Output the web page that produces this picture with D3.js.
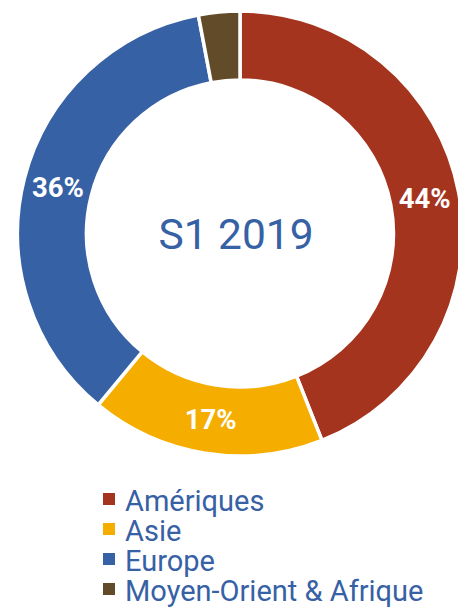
<!DOCTYPE html>
<meta charset="utf-8">
<style>
    html,
    body {
        margin: 0;
        padding: 0;
        background: #fff;
    }

    svg {
        display: block;
        font-family: Roboto, sans-serif;
    }
</style>
<svg id="chart" width="458" height="607"></svg>
<script src="https://d3js.org/d3.v7.js"></script>
<script>
    // data
    let regions = ["Amériques", "Asie", "Europe", "Moyen-Orient & Afrique"];
    let shares = [44, 17, 36, 3];
    let colors = ["#a5341f", "#f5ae00", "#3761a5", "#624b28"];
    let title = "S1 2019";

    let svg = d3.select("#chart");

    let cx = 240,
        cy = 233.5,
        outer = 222.5,
        inner = 153.5;

    let color = d3.scaleOrdinal().domain(regions).range(colors);

    let pie = d3.pie().sort(null).value(d => d.value);
    let arc = d3.arc().innerRadius(inner).outerRadius(outer);

    let data = regions.map((r, i) => ({name: r, value: shares[i]}));
    let arcs = pie(data);

    let g = svg.append("g").attr("transform", `translate(${cx},${cy})`);

    g.selectAll("path")
        .data(arcs)
        .join("path")
        .attr("d", arc)
        .attr("fill", d => color(d.data.name))
        .attr("stroke", "#fff")
        .attr("stroke-width", 3.5);

    // percent labels, the small slice stays unlabelled
    g.selectAll("text.pct")
        .data(arcs.filter(d => d.data.value >= 5))
        .join("text")
        .attr("class", "pct")
        .attr("transform", d => `translate(${arc.centroid(d)})`)
        .attr("text-anchor", "middle")
        .attr("dy", "0.36em")
        .attr("fill", "#fff")
        .attr("font-size", "27.5px")
        .attr("font-weight", "bold")
        .text(d => d.data.value + "%");

    g.append("text")
        .attr("x", -4)
        .attr("y", 15.5)
        .attr("text-anchor", "middle")
        .attr("fill", "#3761a5")
        .attr("font-size", "42.5px")
        .text(title);

    // legend
    let legend = svg.append("g").attr("transform", "translate(103,510.5)");

    let item = legend.selectAll("g")
        .data(regions)
        .join("g")
        .attr("transform", (d, i) => `translate(0,${i * 30})`);

    item.append("rect")
        .attr("y", -17.5)
        .attr("width", 12)
        .attr("height", 12)
        .attr("fill", d => color(d));

    item.append("text")
        .attr("x", 22)
        .attr("fill", "#3761a5")
        .attr("font-size", "29px")
        .text(d => d);
</script>
